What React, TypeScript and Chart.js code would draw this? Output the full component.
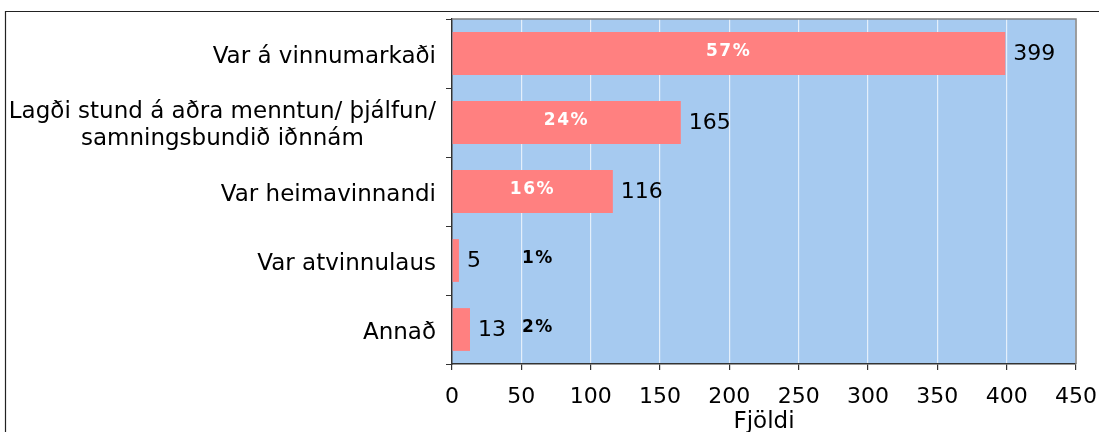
import React, { useEffect, useRef } from 'react';
import { Chart, registerables } from 'chart.js';

Chart.register(...registerables);

const categories: (string | string[])[] = [
  'Var á vinnumarkaði',
  ['Lagði stund á aðra menntun/ þjálfun/', 'samningsbundið iðnnám'],
  'Var heimavinnandi',
  'Var atvinnulaus',
  'Annað',
];
const counts = [399, 165, 116, 5, 13];
const percents = ['57%', '24%', '16%', '1%', '2%'];
const xMin = 0;
const xMax = 450;
const xStep = 50;
const xTitle = 'Fjöldi';

const FONT = "'DejaVu Sans', Verdana, sans-serif";

const decoPlugin = {
  id: 'deco',
  beforeDraw(chart: any) {
    const { ctx, chartArea: a, width, height } = chart;
    ctx.save();
    ctx.fillStyle = '#ffffff';
    ctx.fillRect(0, 0, width, height);
    ctx.fillStyle = '#A6CAF0';
    ctx.fillRect(a.left, a.top, a.right - a.left, a.bottom - a.top);
    ctx.restore();
  },
  afterDraw(chart: any) {
    const { ctx, chartArea: a, width, height } = chart;
    const xs = chart.scales.x;
    const ys = chart.scales.y;
    ctx.save();
    // plot top/right border
    ctx.strokeStyle = '#808080';
    ctx.lineWidth = 1.5;
    ctx.beginPath();
    ctx.moveTo(a.left, a.top);
    ctx.lineTo(a.right, a.top);
    ctx.lineTo(a.right, a.bottom);
    ctx.stroke();
    // outer frame
    ctx.strokeStyle = '#222222';
    ctx.lineWidth = 1.2;
    ctx.beginPath();
    ctx.moveTo(5.5, height);
    ctx.lineTo(5.5, 11.5);
    ctx.lineTo(width, 11.5);
    ctx.stroke();

    // category labels
    ctx.fillStyle = '#000';
    ctx.font = `23px ${FONT}`;
    ctx.textBaseline = 'alphabetic';
    const labelRight = a.left - 16;
    const lineH = 27;
    categories.forEach((lab, i) => {
      const cy = ys.getPixelForValue(i);
      const lines = Array.isArray(lab) ? lab : [lab];
      const widest = Math.max(...lines.map((l) => ctx.measureText(l).width));
      const cx = labelRight - widest / 2;
      ctx.textAlign = 'center';
      lines.forEach((l, j) => {
        const by = cy + 9 + (j - (lines.length - 1) / 2) * lineH;
        ctx.fillText(l, cx, by);
      });
    });

    // value labels
    ctx.font = `22px ${FONT}`;
    ctx.textAlign = 'left';
    ctx.textBaseline = 'middle';
    counts.forEach((v, i) => {
      const px = xs.getPixelForValue(v);
      const cy = ys.getPixelForValue(i);
      ctx.fillText(String(v), px + 8, cy + 1);
    });

    // percent labels
    ctx.font = `bold 17px ${FONT}`;
    (ctx as any).letterSpacing = '1.5px';
    ctx.textAlign = 'center';
    counts.forEach((v, i) => {
      const x0 = xs.getPixelForValue(0);
      const px = xs.getPixelForValue(v);
      const cy = ys.getPixelForValue(i);
      const inside = px - x0 > 60;
      const tx = inside ? (x0 + px) / 2 : xs.getPixelForValue(62);
      ctx.fillStyle = inside ? '#ffffff' : '#000000';
      ctx.fillText(percents[i], tx, cy - 2);
    });
    ctx.restore();
  },
};

export default function App() {
  const ref = useRef<HTMLCanvasElement>(null);
  useEffect(() => {
    document.body.style.margin = '0';
    const chart = new Chart(ref.current as HTMLCanvasElement, {
      type: 'bar',
      data: {
        labels: categories as any,
        datasets: [
          {
            data: counts,
            backgroundColor: '#FF8080',
            borderWidth: 0,
            categoryPercentage: 1,
            barPercentage: 0.62,
          },
        ],
      },
      options: {
        indexAxis: 'y',
        animation: false,
        responsive: false,
        layout: { padding: { left: 0, top: 19, right: 23, bottom: 0 } },
        plugins: { legend: { display: false }, tooltip: { enabled: false } },
        scales: {
          x: {
            min: xMin,
            max: xMax,
            ticks: {
              stepSize: xStep,
              color: '#000',
              font: { family: FONT, size: 22, lineHeight: '50px' },
              padding: 2,
              maxRotation: 0,
            },
            grid: {
              color: 'rgba(255,255,255,0.7)',
              lineWidth: 1.2,
              tickColor: '#333',
              tickLength: 6,
            },
            border: { color: '#333', width: 1.5 },
            title: {
              display: true,
              text: xTitle,
              color: '#000',
              font: { family: FONT, size: 23, lineHeight: '19px' },
              padding: { top: 0, bottom: 0 },
            },
            afterFit: (s: any) => {
              s.height = 68;
            },
          },
          y: {
            ticks: { display: false },
            grid: { drawOnChartArea: false, tickLength: 6, color: '#333', tickColor: '#333' },
            border: { color: '#333', width: 1.5 },
            afterFit: (s: any) => {
              s.width = 452;
            },
          },
        },
      },
      plugins: [decoPlugin],
    });
    return () => chart.destroy();
  }, []);
  return <canvas ref={ref} width={1099} height={432} style={{ display: 'block', width: 1099, height: 432 }} />;
}
